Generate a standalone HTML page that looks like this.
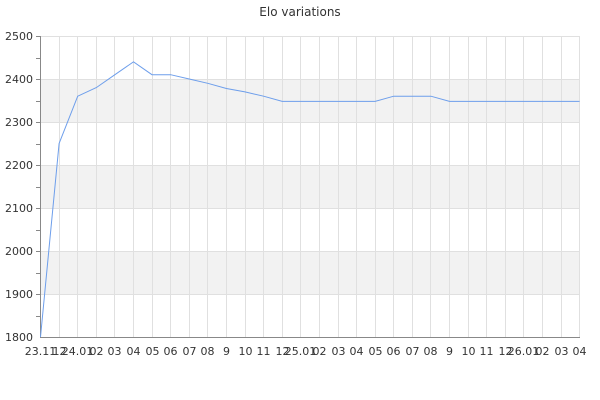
<!DOCTYPE html>
<html><head><meta charset="utf-8"><style>
html,body{margin:0;padding:0;background:#fff;}
svg{display:block;font-family:"DejaVu Sans","Liberation Sans",sans-serif;}
</style></head><body>
<svg width="600" height="400" xmlns="http://www.w3.org/2000/svg">
<rect width="600" height="400" fill="#fff"/>
<text x="300" y="16" text-anchor="middle" font-size="12" fill="#333">Elo variations</text>
<rect x="40.5" y="79" width="539" height="43" fill="#f2f2f2"/>
<rect x="40.5" y="165" width="539" height="43" fill="#f2f2f2"/>
<rect x="40.5" y="251" width="539" height="43" fill="#f2f2f2"/>
<g stroke="#e0e0e0" stroke-width="1">
<line x1="40.5" x2="580" y1="36.5" y2="36.5"/>
<line x1="40.5" x2="580" y1="79.5" y2="79.5"/>
<line x1="40.5" x2="580" y1="122.5" y2="122.5"/>
<line x1="40.5" x2="580" y1="165.5" y2="165.5"/>
<line x1="40.5" x2="580" y1="208.5" y2="208.5"/>
<line x1="40.5" x2="580" y1="251.5" y2="251.5"/>
<line x1="40.5" x2="580" y1="294.5" y2="294.5"/>
<line x1="59.5" x2="59.5" y1="36" y2="337"/><line x1="77.5" x2="77.5" y1="36" y2="337"/><line x1="96.5" x2="96.5" y1="36" y2="337"/><line x1="114.5" x2="114.5" y1="36" y2="337"/><line x1="133.5" x2="133.5" y1="36" y2="337"/><line x1="152.5" x2="152.5" y1="36" y2="337"/><line x1="170.5" x2="170.5" y1="36" y2="337"/><line x1="189.5" x2="189.5" y1="36" y2="337"/><line x1="207.5" x2="207.5" y1="36" y2="337"/><line x1="226.5" x2="226.5" y1="36" y2="337"/><line x1="245.5" x2="245.5" y1="36" y2="337"/><line x1="263.5" x2="263.5" y1="36" y2="337"/><line x1="282.5" x2="282.5" y1="36" y2="337"/><line x1="300.5" x2="300.5" y1="36" y2="337"/><line x1="319.5" x2="319.5" y1="36" y2="337"/><line x1="338.5" x2="338.5" y1="36" y2="337"/><line x1="356.5" x2="356.5" y1="36" y2="337"/><line x1="375.5" x2="375.5" y1="36" y2="337"/><line x1="393.5" x2="393.5" y1="36" y2="337"/><line x1="412.5" x2="412.5" y1="36" y2="337"/><line x1="430.5" x2="430.5" y1="36" y2="337"/><line x1="449.5" x2="449.5" y1="36" y2="337"/><line x1="468.5" x2="468.5" y1="36" y2="337"/><line x1="486.5" x2="486.5" y1="36" y2="337"/><line x1="505.5" x2="505.5" y1="36" y2="337"/><line x1="523.5" x2="523.5" y1="36" y2="337"/><line x1="542.5" x2="542.5" y1="36" y2="337"/><line x1="561.5" x2="561.5" y1="36" y2="337"/><line x1="579.5" x2="579.5" y1="36" y2="337"/>
</g>
<g stroke="#888" stroke-width="1">
<line x1="40.5" x2="40.5" y1="36" y2="337"/>
<line x1="40" x2="580" y1="337.5" y2="337.5"/>
<line x1="36" x2="40.5" y1="36.5" y2="36.5"/><line x1="36" x2="40.5" y1="58.5" y2="58.5"/>
<line x1="36" x2="40.5" y1="79.5" y2="79.5"/><line x1="36" x2="40.5" y1="101.5" y2="101.5"/>
<line x1="36" x2="40.5" y1="122.5" y2="122.5"/><line x1="36" x2="40.5" y1="144.5" y2="144.5"/>
<line x1="36" x2="40.5" y1="165.5" y2="165.5"/><line x1="36" x2="40.5" y1="187.5" y2="187.5"/>
<line x1="36" x2="40.5" y1="208.5" y2="208.5"/><line x1="36" x2="40.5" y1="230.5" y2="230.5"/>
<line x1="36" x2="40.5" y1="251.5" y2="251.5"/><line x1="36" x2="40.5" y1="273.5" y2="273.5"/>
<line x1="36" x2="40.5" y1="294.5" y2="294.5"/><line x1="36" x2="40.5" y1="316.5" y2="316.5"/>
</g>
<g font-size="11" fill="#333" text-anchor="end">
<text x="33" y="40">2500</text><text x="33" y="83">2400</text><text x="33" y="126">2300</text>
<text x="33" y="169">2200</text><text x="33" y="212">2100</text><text x="33" y="255">2000</text>
<text x="33" y="298">1900</text><text x="33" y="341">1800</text>
</g>
<g font-size="11" fill="#333" text-anchor="middle">
<text x="40.5" y="355">23.11</text><text x="59.5" y="355">12</text><text x="77.5" y="355">24.01</text><text x="96.5" y="355">02</text><text x="114.5" y="355">03</text><text x="133.5" y="355">04</text><text x="152.5" y="355">05</text><text x="170.5" y="355">06</text><text x="189.5" y="355">07</text><text x="207.5" y="355">08</text><text x="226.5" y="355">9</text><text x="245.5" y="355">10</text><text x="263.5" y="355">11</text><text x="282.5" y="355">12</text><text x="300.5" y="355">25.01</text><text x="319.5" y="355">02</text><text x="338.5" y="355">03</text><text x="356.5" y="355">04</text><text x="375.5" y="355">05</text><text x="393.5" y="355">06</text><text x="412.5" y="355">07</text><text x="430.5" y="355">08</text><text x="449.5" y="355">9</text><text x="468.5" y="355">10</text><text x="486.5" y="355">11</text><text x="505.5" y="355">12</text><text x="523.5" y="355">26.01</text><text x="542.5" y="355">02</text><text x="561.5" y="355">03</text><text x="579.5" y="355">04</text>
</g>
<polyline fill="none" stroke="#6d9eeb" stroke-width="1" points="40.5,337 59.1,143.5 77.7,96.2 96.3,87.6 114.9,74.7 133.5,61.8 152,74.7 170.6,74.7 189.2,79 207.8,83.3 226.4,88.5 245,91.9 263.6,96.2 282.2,101.4 375.1,101.4 393.7,96.2 430.9,96.2 449.5,101.4 579.6,101.4"/>
</svg>
</body></html>
